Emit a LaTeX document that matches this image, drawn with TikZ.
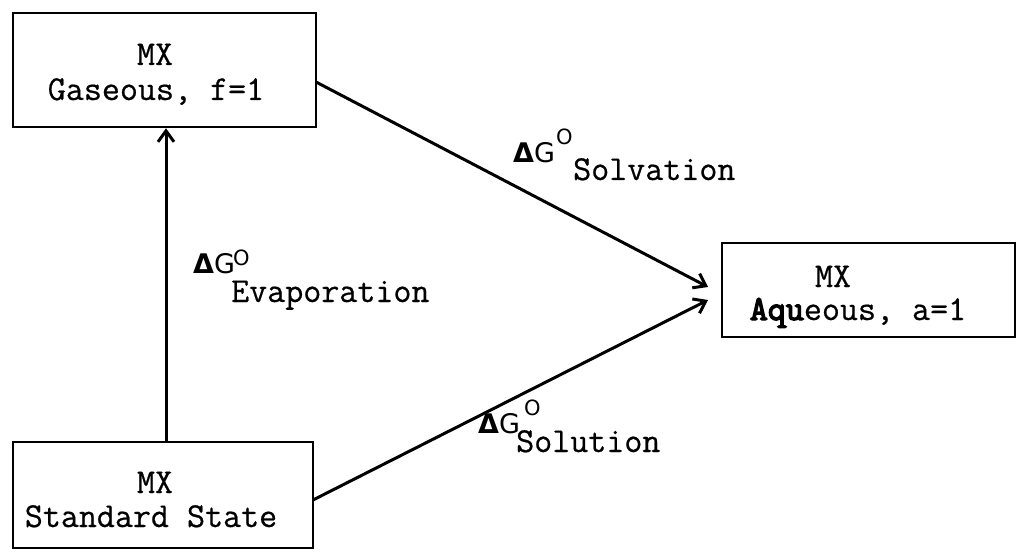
\documentclass[tikz,border=0pt]{standalone}
\usepackage{fontspec}
\setmonofont[FakeBold=0.6]{Latin Modern Mono}
\newfontfamily\ttbold[FakeBold=4]{Latin Modern Mono}
\newfontfamily\dvs{DejaVu Sans}
\usetikzlibrary{arrows.meta}
\tikzset{
  box/.style={draw, line width=2.6pt, rectangle, inner sep=0pt},
  txt/.style={anchor=base, inner sep=0pt, font=\ttfamily\fontsize{35}{35}\selectfont},
  dg/.style={anchor=base west, inner sep=0pt, font=\dvs\fontsize{27}{27}\selectfont},
  sup/.style={anchor=base west, inner sep=0pt, font=\dvs\fontsize{21}{21}\selectfont},
  sub/.style={anchor=base west, inner sep=0pt, font=\ttfamily\fontsize{35}{35}\selectfont},
  conn/.style={line width=3pt, -{Straight Barb[length=11pt,width=16pt,line width=3pt]}}
}
\begin{document}
\begin{tikzpicture}[x=1pt,y=-1pt]
\useasboundingbox (0,0) rectangle (1018,559);
% boxes
\node[box, minimum width=303pt, minimum height=114pt] (gas) at (164.5,70) {};
\node[box, minimum width=293pt, minimum height=94pt] (aq) at (868.5,290) {};
\node[box, minimum width=300pt, minimum height=106pt] (std) at (163,495) {};
% box texts
\node[txt] (gas1) at (155,65) {MX};
\node[txt] (gas2) at (156,100) {Gaseous, f=1};
\node[txt] (aq1) at (833,287) {MX};
\node[txt] (aq2) at (858,320) {{\ttbold Aqu}eous, a=1};
\node[txt] (std1) at (155,493) {MX};
\node[txt] (std2) at (151,527) {Standard State};
% connectors
\coordinate (gasR) at (316,82);
\coordinate (stdR) at (313,500);
\coordinate (aqT) at (708,287);
\coordinate (aqB) at (708,300);
\draw[conn] (std.north -| 166,0) -- (gas.south -| 166,0);
\draw[conn] (gasR) -- (aqT);
\draw[conn] (stdR) -- (aqB);
% labels
\node[dg] (ev1) at (193,273) {\textbf{Δ}G};
\node[sup] (ev2) at (233,265) {O};
\node[sub] (ev3) at (231,302) {Evaporation};
\node[dg] (sv1) at (513,163) {\textbf{Δ}G};
\node[sup] (sv2) at (556,145) {O};
\node[sub] (sv3) at (573,180) {Solvation};
\node[dg] (sl1) at (478,433) {\textbf{Δ}G};
\node[sup] (sl2) at (524,415) {O};
\node[sub] (sl3) at (516,452) {Solution};
\end{tikzpicture}
\end{document}
